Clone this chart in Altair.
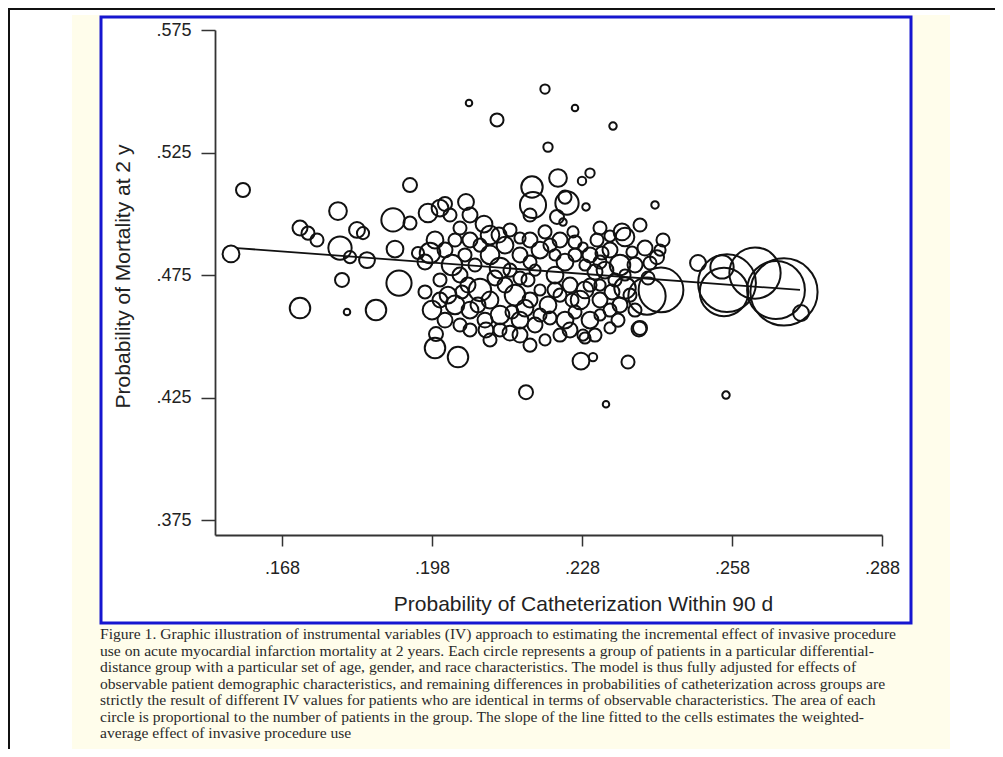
import altair as alt
import pandas as pd

# ---- data ----
cath = [
    0.1578, 0.1602, 0.1716, 0.1732, 0.1750, 0.1792, 0.1796, 0.1816, 0.1830, 0.1842,
    0.1850, 0.1800, 0.1716, 0.1810, 0.1868, 0.1914, 0.1902, 0.1936, 0.1936, 0.1906,
    0.1952, 0.1976, 0.1972, 0.2006, 0.2048, 0.2054, 0.2110, 0.2206, 0.2266, 0.2342,
    0.2212, 0.2296, 0.2280, 0.2232, 0.2180, 0.2182, 0.2246, 0.2250, 0.2288, 0.2426,
    0.2230, 0.2242, 0.2262, 0.2176, 0.2360, 0.2366, 0.2442, 0.2436, 0.2380, 0.2430,
    0.2416, 0.2310, 0.2320, 0.2282, 0.2438, 0.2410, 0.2366, 0.2570, 0.2564, 0.2626,
    0.2684, 0.2668, 0.2560, 0.2512, 0.2718, 0.2396, 0.2282, 0.1988, 0.1986, 0.2032,
    0.2168, 0.2328, 0.2278, 0.2302, 0.2372, 0.2394, 0.2286, 0.2088, 0.2136, 0.2568,
    0.1996, 0.2012, 0.2026, 0.1996, 0.2052, 0.2076, 0.2096, 0.2126, 0.2146, 0.2172,
    0.2176, 0.2196, 0.2212, 0.2236, 0.2256, 0.2276, 0.2296, 0.2316, 0.2336, 0.2056,
    0.2086, 0.2116, 0.2156, 0.2186, 0.2216, 0.2246, 0.2266, 0.2296, 0.2316, 0.2356,
    0.2376, 0.2206, 0.2236, 0.2116, 0.2036, 0.2006, 0.1996, 0.2056, 0.2036, 0.2084,
    0.2096, 0.2076, 0.2114, 0.2136, 0.2156, 0.2006, 0.2020, 0.2046, 0.2066, 0.2096,
    0.2116, 0.2156, 0.2176, 0.2196, 0.2216, 0.2226, 0.2246, 0.2266, 0.2286, 0.2306,
    0.2326, 0.2346, 0.2366, 0.2336, 0.2356, 0.2386, 0.2412, 0.2156, 0.2226, 0.2186,
    0.1966, 0.1986, 0.2026, 0.2056, 0.2036, 0.1966, 0.1980, 0.2040, 0.2072, 0.2106,
    0.2136, 0.2140, 0.2166, 0.2196, 0.2226, 0.2260, 0.2286, 0.2316, 0.2340, 0.2352,
    0.2126, 0.2176, 0.2206, 0.2236, 0.2266, 0.2296, 0.2316, 0.2056, 0.2096, 0.2156,
    0.2176, 0.2256, 0.2306, 0.2336, 0.2386, 0.2406, 0.2396, 0.2316, 0.2336, 0.2016,
]

mort = [
    0.4836, 0.5097, 0.4942, 0.4921, 0.4893, 0.5011, 0.4860, 0.4823, 0.4934, 0.4921,
    0.4811, 0.4730, 0.4615, 0.4599, 0.4607, 0.4717, 0.4975, 0.4962, 0.5117, 0.4856,
    0.4840, 0.4840, 0.5003, 0.5040, 0.5048, 0.5452, 0.5383, 0.5509, 0.5432, 0.5358,
    0.5272, 0.5166, 0.5134, 0.5146, 0.5109, 0.5036, 0.5068, 0.5044, 0.5028, 0.5036,
    0.4987, 0.4966, 0.4926, 0.4995, 0.4926, 0.4905, 0.4893, 0.4852, 0.4844, 0.4823,
    0.4799, 0.4893, 0.4840, 0.4864, 0.4689, 0.4664, 0.4697, 0.4717, 0.4681, 0.4758,
    0.4681, 0.4689, 0.4783, 0.4799, 0.4595, 0.4534, 0.4505, 0.4509, 0.4452, 0.4415,
    0.4272, 0.4223, 0.4399, 0.4415, 0.4395, 0.4530, 0.4493, 0.4526, 0.4513, 0.4260,
    0.4730, 0.4668, 0.4628, 0.4648, 0.4709, 0.4689, 0.4648, 0.4709, 0.4668, 0.4730,
    0.4648, 0.4689, 0.4628, 0.4668, 0.4709, 0.4648, 0.4709, 0.4648, 0.4607, 0.4607,
    0.4566, 0.4587, 0.4566, 0.4546, 0.4575, 0.4566, 0.4599, 0.4566, 0.4587, 0.4628,
    0.4668, 0.4485, 0.4505, 0.4526, 0.4546, 0.4566, 0.5023, 0.4995, 0.4942, 0.4958,
    0.4913, 0.4872, 0.4913, 0.4934, 0.4901, 0.4852, 0.4791, 0.4832, 0.4791, 0.4832,
    0.4779, 0.4832, 0.4803, 0.4852, 0.4872, 0.4832, 0.4803, 0.4832, 0.4791, 0.4762,
    0.4770, 0.4730, 0.4750, 0.4852, 0.4791, 0.4791, 0.4738, 0.4738, 0.4750, 0.4770,
    0.4803, 0.4893, 0.4893, 0.4893, 0.4750, 0.4681, 0.4607, 0.4681, 0.4628, 0.4738,
    0.4770, 0.4599, 0.4615, 0.4587, 0.4689, 0.4648, 0.4689, 0.4709, 0.4681, 0.4566,
    0.4872, 0.4893, 0.4926, 0.4893, 0.4885, 0.4832, 0.4803, 0.4526, 0.4485, 0.4505,
    0.4464, 0.4526, 0.4505, 0.4534, 0.4607, 0.4860, 0.4954, 0.4942, 0.4909, 0.4995,
]

patients = [
    324, 225, 256, 196, 196, 361, 625, 169, 289, 169,
    289, 225, 484, 49, 484, 729, 625, 196, 225, 324,
    169, 484, 400, 225, 289, 49, 196, 100, 49, 64,
    100, 100, 81, 361, 529, 784, 196, 625, 64, 64,
    225, 64, 144, 196, 324, 400, 196, 144, 144, 225,
    196, 196, 196, 100, 2304, 1600, 529, 3844, 2704, 3025,
    5184, 3844, 625, 289, 289, 225, 144, 225, 484, 484,
    225, 49, 324, 81, 196, 256, 144, 256, 256, 64,
    196, 324, 400, 256, 256, 576, 324, 256, 484, 196,
    256, 144, 324, 196, 256, 400, 196, 256, 196, 324,
    256, 400, 324, 256, 196, 324, 196, 324, 144, 256,
    196, 144, 196, 196, 196, 256, 324, 256, 196, 324,
    400, 196, 256, 196, 144, 256, 484, 196, 196, 400,
    484, 256, 196, 324, 196, 144, 324, 196, 144, 256,
    324, 196, 144, 256, 484, 256, 196, 196, 324, 144,
    256, 324, 196, 256, 256, 196, 400, 196, 256, 256,
    196, 196, 324, 196, 256, 196, 324, 144, 256, 196,
    324, 256, 196, 256, 196, 256, 196, 196, 196, 256,
    196, 256, 196, 144, 196, 256, 196, 196, 144, 196,
]

fit_x = [0.159, 0.2716]
fit_y = [0.4860, 0.4689]

x_ticks = [0.168, 0.198, 0.228, 0.258, 0.288]
y_ticks = [0.375, 0.425, 0.475, 0.525, 0.575]

x_title = "Probability of Catheterization Within 90 d"
y_title = "Probability of Mortality at 2 y"

caption_lines = [
    "Figure 1. Graphic illustration of instrumental variables (IV) approach to estimating the incremental effect of invasive procedure",
    "use on acute myocardial infarction mortality at 2 years. Each circle represents a group of patients in a particular differential-",
    "distance group with a particular set of age, gender, and race characteristics. The model is thus fully adjusted for effects of",
    "observable patient demographic characteristics, and remaining differences in probabilities of catheterization across groups are",
    "strictly the result of different IV values for patients who are identical in terms of observable characteristics. The area of each",
    "circle is proportional to the number of patients in the group. The slope of the line fitted to the cells estimates the weighted-",
    "average effect of invasive procedure use",
]

df = pd.DataFrame({"cath": cath, "mort": mort, "patients": patients})
fit = pd.DataFrame({"cath": fit_x, "mort": fit_y})
one = pd.DataFrame({"k": [0]})

label_expr = "replace(format(datum.value, '.3f'), '0.', '.')"
FONT = "Liberation Sans"

x_scale = alt.Scale(domain=[0.1546, 0.288], nice=False, zero=False)
y_scale = alt.Scale(domain=[0.3689, 0.575], nice=False, zero=False)

x_axis = alt.Axis(
    values=x_ticks, labelExpr=label_expr, title=x_title, grid=False,
    tickSize=11, tickWidth=1.5, tickColor="#333333",
    domainColor="#333333", domainWidth=1.8,
    labelFont=FONT, labelFontSize=18, labelColor="#222222", labelPadding=13,
    labelFlush=False, labelOverlap=False,
    titleFont=FONT, titleFontSize=21, titleFontWeight="normal", titleColor="#222222",
    titleX=368, titleY=69, titleAlign="center", titleBaseline="middle",
    zindex=1,
)
y_axis = alt.Axis(
    values=y_ticks, labelExpr=label_expr, title=y_title, grid=False,
    tickSize=14, tickWidth=1.5, tickColor="#333333",
    domainColor="#333333", domainWidth=1.8,
    labelFont=FONT, labelFontSize=18, labelColor="#222222", labelPadding=10,
    labelFlush=False, labelOverlap=False,
    titleFont=FONT, titleFontSize=21, titleFontWeight="normal", titleColor="#222222",
    titleX=-92, titleY=246, titleAngle=270, titleAlign="center", titleBaseline="middle",
    zindex=1,
)

# decorative page elements
cream = alt.Chart(one).mark_rect(color="#FFFDEB").encode(
    x=alt.value(-143), x2=alt.value(735), y=alt.value(-15), y2=alt.value(719)
)
box = alt.Chart(one).mark_rect(fill="white", stroke="#1616D0", strokeWidth=3).encode(
    x=alt.value(-114), x2=alt.value(696), y=alt.value(-13), y2=alt.value(593)
)
top_rule = alt.Chart(one).mark_rule(color="#111111", strokeWidth=2).encode(
    x=alt.value(-207), x2=alt.value(780), y=alt.value(-21)
)
left_rule = alt.Chart(one).mark_rule(color="#111111", strokeWidth=2).encode(
    x=alt.value(-206), y=alt.value(-22), y2=alt.value(719)
)

circles = alt.Chart(df).mark_point(
    shape="circle", filled=False, color="#111111", strokeWidth=2, opacity=1
).encode(
    x=alt.X("cath:Q", scale=x_scale, axis=x_axis),
    y=alt.Y("mort:Q", scale=y_scale, axis=y_axis),
    size=alt.Size("patients:Q", scale=alt.Scale(domain=[0, 10000], range=[0, 8700]), legend=None),
)

line = alt.Chart(fit).mark_line(color="#111111", strokeWidth=1.8).encode(
    x="cath:Q", y="mort:Q"
)

caption = alt.Chart(one).mark_text(
    align="left", baseline="alphabetic", font="Liberation Serif", fontSize=15.6,
    color="#2a2a2a", lineBreak="\n", lineHeight=16.5,
).encode(
    x=alt.value(-115), y=alt.value(609), text=alt.value("\n".join(caption_lines))
)

chart = alt.layer(cream, box, top_rule, left_rule, circles, line, caption).properties(
    width=667, height=505,
    padding={"left": 207, "top": 22, "right": 113, "bottom": 214},
    autosize=alt.AutoSizeParams(type="none"),
    background="white",
).configure_view(stroke=None)

chart.save("out.html", embed_options={"renderer": "svg", "actions": False})
